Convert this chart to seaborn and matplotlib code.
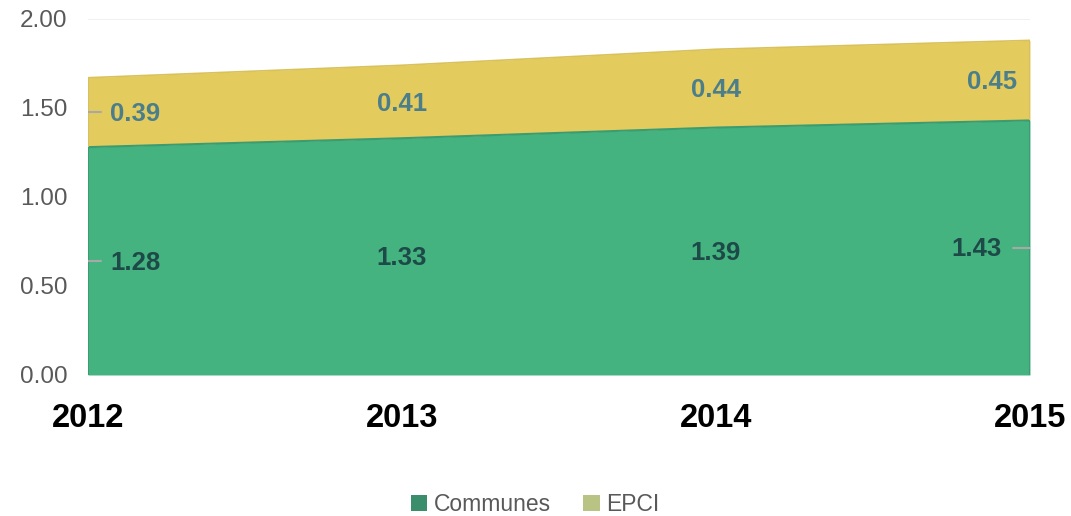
import numpy as np
import pandas as pd
import seaborn as sns
import matplotlib.pyplot as plt
from matplotlib.patches import Patch

years = ["2012", "2013", "2014", "2015"]
communes = [1.28, 1.33, 1.39, 1.43]
epci = [0.39, 0.41, 0.44, 0.45]
y_ticks = [0.0, 0.5, 1.0, 1.5, 2.0]

sns.set_theme(style="white")
plt.rcParams["font.family"] = ["Liberation Sans", "DejaVu Sans"]

df = pd.DataFrame({"annee": years, "Communes": communes, "EPCI": epci})
df["x"] = np.arange(len(years))
df["total"] = df["Communes"] + df["EPCI"]

green = "#44B37F"
green_edge = "#3A9C70"
yellow = "#E4CB5E"
yellow_edge = "#D9C25A"

fig = plt.figure(figsize=(10.71, 5.16), dpi=100)
ax = fig.add_axes([0.0822, 0.2733, 0.8795, 0.6899])

# top gridline only shows above the stacked areas
for t in y_ticks:
    ax.axhline(t, color="#EEEEEE", lw=1.2, zorder=0)

ax.fill_between(df["x"], 0, df["Communes"], color=green, lw=0, zorder=2)
ax.fill_between(df["x"], df["Communes"], df["total"], color=yellow, lw=0, zorder=2)
sns.lineplot(data=df, x="x", y="Communes", color=green_edge, lw=1.5, ax=ax, zorder=3)
sns.lineplot(data=df, x="x", y="total", color=yellow_edge, lw=1.2, ax=ax, zorder=3)
ax.vlines([df["x"].iloc[0], df["x"].iloc[-1]], 0, df["Communes"].iloc[[0, -1]],
          color=green_edge, lw=1.5, zorder=3)
ax.vlines([df["x"].iloc[0], df["x"].iloc[-1]], df["Communes"].iloc[[0, -1]],
          df["total"].iloc[[0, -1]], color="#D6C060", lw=1.5, zorder=3)

n = len(years)
for i in range(n):
    c = df["Communes"].iloc[i]
    e = df["EPCI"].iloc[i]
    if i == 0:
        ha, dx = "left", 0.07
    elif i == n - 1:
        ha, dx = "right", -0.09
    else:
        ha, dx = "center", 0.0
    ax.text(i + dx, c / 2 - 0.01, f"{c:.2f}", ha=ha, va="center", fontsize=18.5,
            fontweight="bold", color="#1D4A48", zorder=5)
    ax.text(i + dx + (0.05 if i == n - 1 else 0), c + e / 2 - 0.01, f"{e:.2f}",
            ha=ha, va="center", fontsize=18.5, fontweight="bold", color="#4B7E8A", zorder=5)

# small leader ticks next to the end labels
ax.plot([0, 0.04], [communes[0] / 2, communes[0] / 2], color="#A8A8A8", lw=1.5, zorder=4)
ax.plot([0, 0.04], [communes[0] + epci[0] / 2] * 2, color="#A8A8A8", lw=1.5, zorder=4)
ax.plot([n - 1.055, n - 1], [communes[-1] / 2] * 2, color="#A8A8A8", lw=1.5, zorder=4)

ax.set_xlim(0, n - 1)
ax.set_ylim(0, 2.0)
ax.set_yticks(y_ticks)
ax.set_yticklabels([f"{t:.2f}" for t in y_ticks], fontsize=17.5, color="#595959")
ax.set_xticks(df["x"])
ax.set_xticklabels(years, fontsize=23.5, fontweight="bold", color="#000000")
ax.tick_params(axis="y", length=0, pad=15)
ax.tick_params(axis="x", length=0, pad=20)
ax.set_xlabel("")
ax.set_ylabel("")
for s in ax.spines.values():
    s.set_visible(False)

handles = [Patch(facecolor="#3A8E6C", edgecolor="none", label="Communes"),
           Patch(facecolor="#B8C384", edgecolor="none", label="EPCI")]
fig.legend(handles=handles, loc="center", bbox_to_anchor=(0.5, 0.022), ncol=2,
           frameon=False, fontsize=16.5, labelcolor="#595959", handlelength=0.7,
           handleheight=0.7, handletextpad=0.3, columnspacing=1.4)

fig.savefig("out.png", dpi=100)
